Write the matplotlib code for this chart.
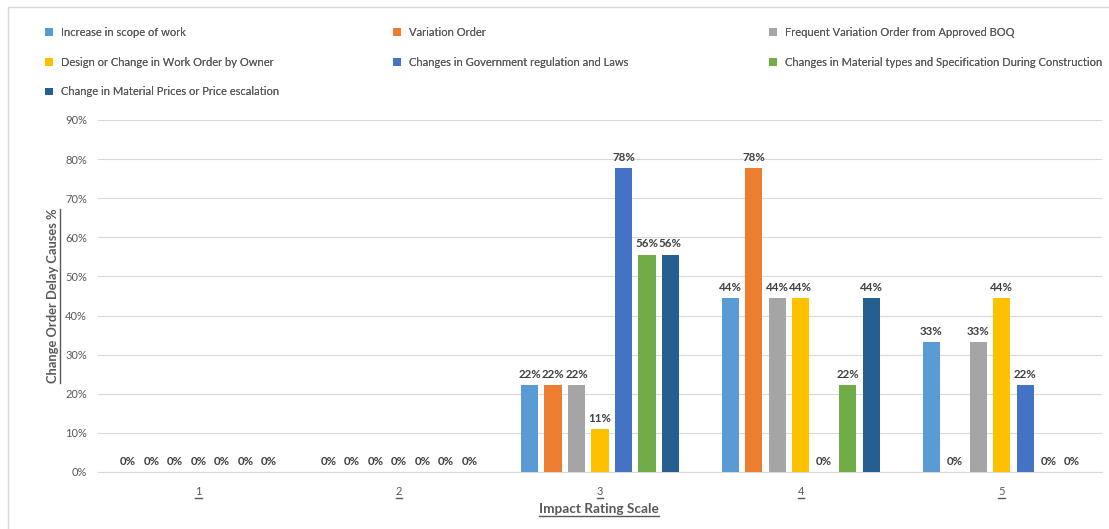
import numpy as np
import matplotlib
matplotlib.use('Agg')
import matplotlib.pyplot as plt
from matplotlib.patches import Rectangle
from matplotlib.lines import Line2D

plt.rcParams['font.family'] = ['Lato', 'DejaVu Sans']

# 데이터
categories = ['1', '2', '3', '4', '5']
series_names = [
    'Increase in scope of work',
    'Variation Order',
    'Frequent Variation Order from Approved BOQ',
    'Design or Change in Work Order by Owner',
    'Changes in Government regulation and Laws',
    'Changes in Material types and Specification During Construction',
    'Change in Material Prices or Price escalation',
]
increase_scope = [0, 0, 22.2, 44.4, 33.3]
variation_order = [0, 0, 22.2, 77.8, 0]
frequent_variation = [0, 0, 22.2, 44.4, 33.3]
design_change = [0, 0, 11.1, 44.4, 44.4]
government_laws = [0, 0, 77.8, 0, 22.2]
material_types = [0, 0, 55.6, 22.2, 0]
price_escalation = [0, 0, 55.6, 44.4, 0]
yticks = [0, 10, 20, 30, 40, 50, 60, 70, 80, 90]

series_values = [increase_scope, variation_order, frequent_variation, design_change,
                 government_laws, material_types, price_escalation]
colors = ['#5B9BD5', '#ED7D31', '#A5A5A5', '#FFC000', '#4472C4', '#70AD47', '#255E91']

fig = plt.figure(figsize=(11.09, 5.29), dpi=100)
fig.set_facecolor('white')

# 차트 테두리
fig.add_artist(Rectangle((8 / 1109, -0.05), 1.2, 1 - 7 / 529 + 0.05, transform=fig.transFigure,
                         fill=False, edgecolor='#D9D9D9', linewidth=1))

ax = fig.add_axes([98 / 1109, 57 / 529, 1004 / 1109, 352 / 529])

x = np.arange(len(categories))
pitch = 0.117
width = 0.085
bars = []
for i, (vals, c) in enumerate(zip(series_values, colors)):
    off = (i - 3) * pitch
    b = ax.bar(x + off, vals, width=width, color=c, label=series_names[i], zorder=3)
    bars.append(b)
    for xi, v in zip(x + off, vals):
        ax.text(xi, v + 1.3, f'{round(v)}%', ha='center', va='bottom', fontsize=8.3,
                fontweight='bold', color='#404040', zorder=4)

ax.set_xlim(-0.5, 4.5)
ax.set_ylim(0, 90)
ax.set_yticks(yticks)
ax.set_yticklabels([f'{t}%' for t in yticks])
ax.set_xticks(x)
ax.set_xticklabels(categories)
ax.grid(axis='y', color='#D9D9D9', linewidth=0.8, zorder=0)
ax.tick_params(axis='both', length=0, labelsize=8, labelcolor='#595959')
ax.tick_params(axis='y', pad=8)
ax.tick_params(axis='x', pad=10)
for s in ['top', 'right', 'left']:
    ax.spines[s].set_visible(False)
ax.spines['bottom'].set_color('#D9D9D9')

# 축 제목
xl = fig.text(599 / 1109, 1 - 509 / 529, 'Impact Rating Scale', ha='center', va='center',
              fontsize=9.8, fontweight='bold', color='#595959')
yl = fig.text(53 / 1109, 1 - 296 / 529, 'Change Order Delay Causes %', ha='center', va='center',
              rotation=90, fontsize=9.3, fontweight='bold', color='#595959')

# 범례 (열 3개)
legend_cols = [([0, 3, 6], 45), ([1, 4], 393), ([2, 5], 769)]
for idx, xpx in legend_cols:
    leg = fig.legend([bars[i] for i in idx], [series_names[i] for i in idx],
                     loc='upper left', bbox_to_anchor=(xpx / 1109, 1 - 27 / 529),
                     frameon=False, fontsize=8, labelcolor='#595959',
                     handlelength=0.7, handleheight=0.7, handletextpad=0.7,
                     labelspacing=1.68, borderaxespad=0, borderpad=0)
    fig.add_artist(leg)

# 밑줄
fig.canvas.draw()
r = fig.canvas.get_renderer()
inv = fig.transFigure.inverted()
def underline(t, vertical=False):
    bb = t.get_window_extent(r)
    (x0, y0), (x1, y1) = inv.transform([[bb.x0, bb.y0], [bb.x1, bb.y1]])
    if vertical:
        fig.add_artist(Line2D([x1 + 1 / 1109, x1 + 1 / 1109], [y0, y1], color='#595959', lw=1))
    else:
        fig.add_artist(Line2D([x0, x1], [y0 - 1 / 529, y0 - 1 / 529], color='#595959', lw=1))

underline(xl)
underline(yl, vertical=True)
for t in ax.get_xticklabels():
    underline(t)

fig.savefig('out.png', dpi=100, facecolor='white')
